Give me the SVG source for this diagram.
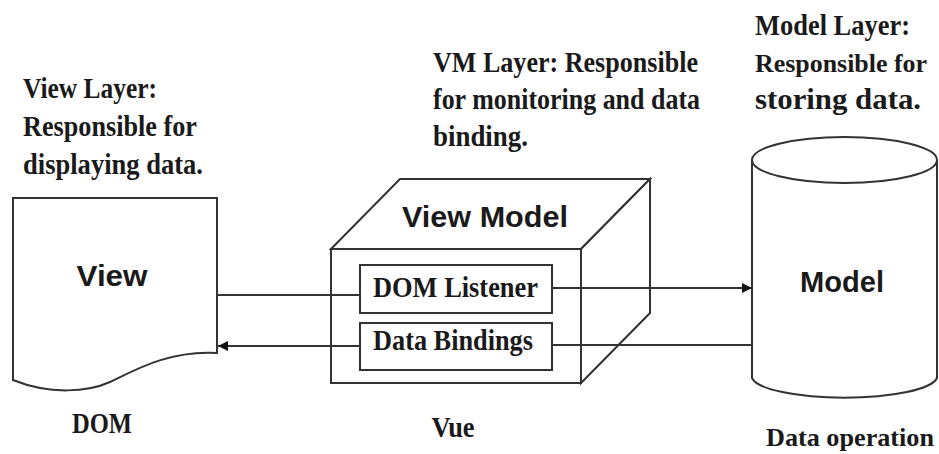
<svg xmlns="http://www.w3.org/2000/svg" width="939" height="454" viewBox="0 0 939 454">
<style>
.shape{fill:#fff;stroke:#333;stroke-width:2}
.line{fill:none;stroke:#333;stroke-width:2}
.serif{font-family:"Liberation Serif","Times New Roman",serif;font-weight:bold;font-size:29px;fill:#1a1a1a}
.sans{font-family:"Liberation Sans",Arial,sans-serif;font-weight:bold;font-size:29px;fill:#1a1a1a}
.edge{font-size:26px}
</style>
<defs>
<marker id="arr" viewBox="0 0 10 10" refX="10" refY="5" markerWidth="13" markerHeight="10" markerUnits="userSpaceOnUse" orient="auto">
<path d="M0,0 L10,5 L0,10 Z" fill="#111"/>
</marker>
</defs>
<rect width="939" height="454" fill="#fff"/>

<g id="view-label">
<text class="serif" x="23" y="98" textLength="134" lengthAdjust="spacingAndGlyphs">View Layer:</text>
<text class="serif" x="23" y="136" textLength="174" lengthAdjust="spacingAndGlyphs">Responsible for</text>
<text class="serif" x="23" y="174" textLength="180" lengthAdjust="spacingAndGlyphs">displaying data.</text>
</g>
<g id="vm-label">
<text class="serif" x="433" y="72" textLength="265" lengthAdjust="spacingAndGlyphs">VM Layer: Responsible</text>
<text class="serif" x="433" y="109" textLength="267" lengthAdjust="spacingAndGlyphs">for monitoring and data</text>
<text class="serif" x="433" y="146" textLength="95" lengthAdjust="spacingAndGlyphs">binding.</text>
</g>
<g id="model-label">
<text class="serif" x="755" y="35" textLength="155" lengthAdjust="spacingAndGlyphs">Model Layer:</text>
<text class="serif edge" x="755" y="72" textLength="172" lengthAdjust="spacingAndGlyphs">Responsible for</text>
<text class="serif" x="755" y="109" textLength="166" lengthAdjust="spacingAndGlyphs">storing data.</text>
</g>

<g id="view">
<path class="shape" d="M13,198 H217 V353 C170,350 135,370 110,382 C88,392 50,395 13,380 Z"/>
<text class="sans" x="112" y="286" text-anchor="middle" textLength="71" lengthAdjust="spacingAndGlyphs">View</text>
<text class="serif" x="102" y="433" text-anchor="middle" textLength="60" lengthAdjust="spacingAndGlyphs">DOM</text>
</g>

<g id="viewmodel">
<path class="shape" d="M331,249 L400,179 H650 L581,249 Z"/>
<path class="shape" d="M581,249 L650,179 V313 L581,383 Z"/>
<rect class="shape" x="331" y="249" width="250" height="134"/>
<text class="sans" x="485" y="227" text-anchor="middle" textLength="166" lengthAdjust="spacingAndGlyphs">View Model</text>
<text class="serif" x="453" y="437" text-anchor="middle" textLength="43" lengthAdjust="spacingAndGlyphs">Vue</text>
</g>
<g id="dom-listener">
<rect class="shape" x="360" y="265" width="192" height="48"/>
<text class="serif" x="373" y="297" textLength="165" lengthAdjust="spacingAndGlyphs">DOM Listener</text>
</g>
<g id="data-bindings">
<rect class="shape" x="360" y="323" width="192" height="47"/>
<text class="serif" x="373" y="350" textLength="160" lengthAdjust="spacingAndGlyphs">Data Bindings</text>
</g>

<g id="model">
<path class="shape" d="M752,160 V378 A93,22 0 0 0 937,378 V160"/>
<ellipse class="shape" cx="844.5" cy="160" rx="92.5" ry="23"/>
<text class="sans" x="842" y="292" text-anchor="middle" textLength="84" lengthAdjust="spacingAndGlyphs">Model</text>
<text class="serif edge" x="766" y="446" textLength="168" lengthAdjust="spacingAndGlyphs">Data operation</text>
</g>

<g id="connectors">
<line class="line" x1="217" y1="295" x2="360" y2="295"/>
<line class="line" x1="552" y1="288" x2="752" y2="288" marker-end="url(#arr)"/>
<line class="line" x1="752" y1="345" x2="552" y2="345"/>
<line class="line" x1="360" y1="346" x2="218" y2="346" marker-end="url(#arr)"/>
</g>
</svg>
